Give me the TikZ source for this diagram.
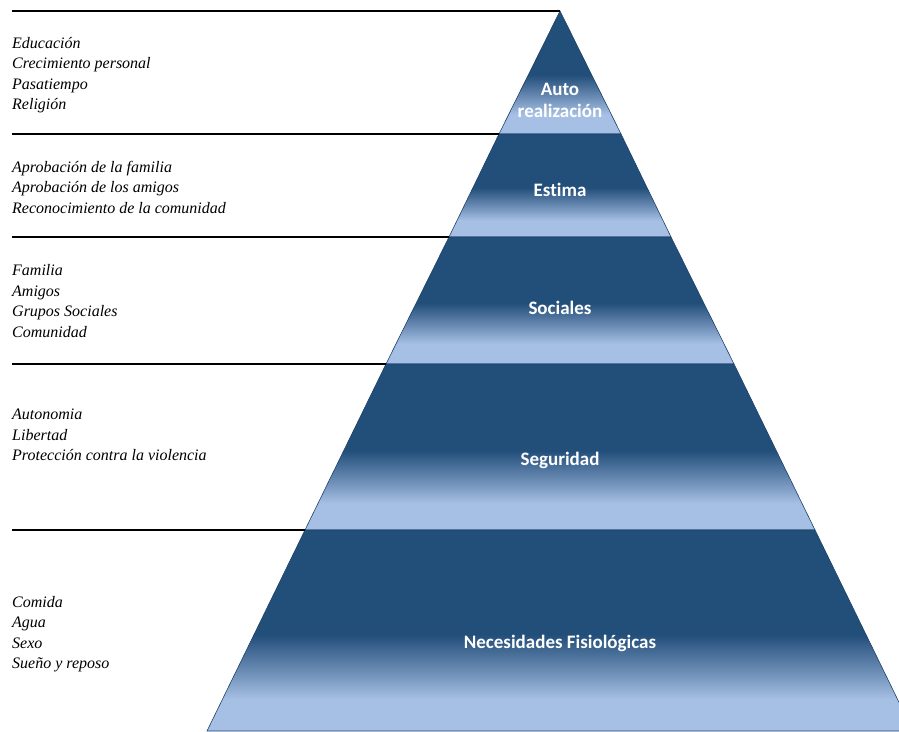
\documentclass[tikz,border=0pt]{standalone}
\usepackage{fontspec}
\setmainfont{Liberation Serif}
\newfontfamily\levelfont[Ligatures=NoCommon]{Carlito}

\definecolor{pyrdark}{RGB}{34,78,122}
\definecolor{pyrlight}{RGB}{166,191,228}
% dark on top, fading to light near the bottom of each layer
\pgfdeclareverticalshading{layer}{100bp}{color(0bp)=(pyrlight); color(33bp)=(pyrlight); color(40bp)=(pyrlight!55!pyrdark); color(49bp)=(pyrdark); color(100bp)=(pyrdark)}

\begin{document}
\begin{tikzpicture}[x=1pt,y=-1pt,
	needs/.style={font=\itshape\fontsize{16}{20.5}\selectfont, align=left, anchor=west, inner sep=0pt},
	levelname/.style={font=\levelfont\bfseries\fontsize{19}{22}\selectfont, text=white, align=center},
	layer/.style={shading=layer, draw=pyrdark!85!black, line width=0.6pt},
	rule/.style={line width=1.2pt}]
	\useasboundingbox (0,0) rectangle (899,731);
	\clip (0,0) rectangle (899,731);

	% corners of the pyramid
	\coordinate (top) at (560,11);
	\coordinate (l1) at (499,134);	\coordinate (r1) at (621,134);
	\coordinate (l2) at (449,237);	\coordinate (r2) at (671,237);
	\coordinate (l3) at (386,364);	\coordinate (r3) at (734,364);
	\coordinate (l4) at (305,530);	\coordinate (r4) at (815,530);
	\coordinate (l5) at (207,731);	\coordinate (r5) at (913,731);

	\shade[layer] (top) -- (r1) -- (l1) -- cycle;
	\shade[layer] (l1) -- (r1) -- (r2) -- (l2) -- cycle;
	\shade[layer] (l2) -- (r2) -- (r3) -- (l3) -- cycle;
	\shade[layer] (l3) -- (r3) -- (r4) -- (l4) -- cycle;
	\shade[layer] (l4) -- (r4) -- (r5) -- (l5) -- cycle;

	% separators
	\draw[rule] (12,11) -- (top);
	\draw[rule] (12,134) -- (l1);
	\draw[rule] (12,237) -- (l2);
	\draw[rule] (12,364) -- (l3);
	\draw[rule] (12,530) -- (l4);

	\node[levelname] (auto) at (560,100) {Auto\\realización};
	\node[levelname] (estima) at (560,190) {Estima};
	\node[levelname] (sociales) at (560,308) {Sociales};
	\node[levelname] (seguridad) at (560,460) {Seguridad};
	\node[levelname] (fisio) at (560,643) {Necesidades Fisiológicas};

	\node[needs] (n1) at (12,75) {Educación\\Crecimiento personal\\Pasatiempo\\Religión};
	\node[needs] (n2) at (12,187) {Aprobación de la familia\\Aprobación de los amigos\\Reconocimiento de la comunidad};
	\node[needs] (n3) at (12,301) {Familia\\Amigos\\Grupos Sociales\\Comunidad};
	\node[needs] (n4) at (12,435) {Autonomia\\Libertad\\Protección contra la violencia};
	\node[needs] (n5) at (12,634) {Comida\\Agua\\Sexo\\Sueño y reposo};
\end{tikzpicture}
\end{document}
